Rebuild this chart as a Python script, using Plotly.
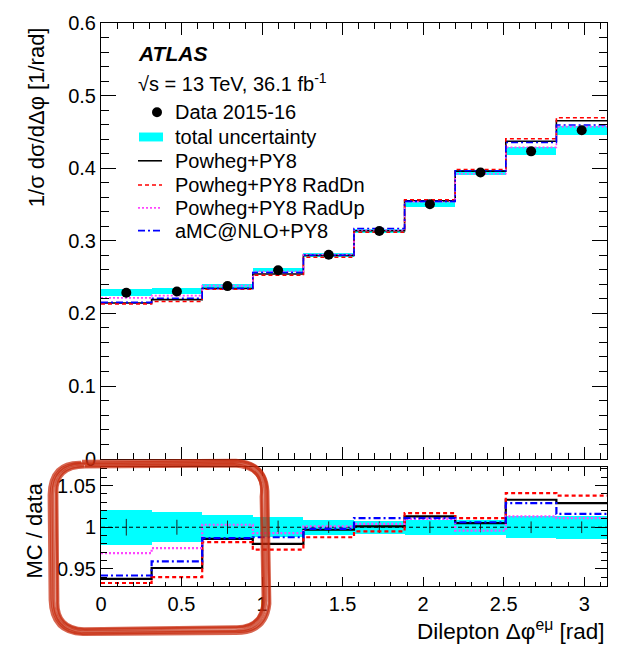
import plotly.graph_objects as go

# ---------------- data ----------------
bin_edges = [0.0, 0.3142, 0.6283, 0.9425, 1.2566, 1.5708, 1.8850, 2.1991, 2.5133, 2.8274, 3.1416]
data_xsec = [0.2285, 0.2303, 0.2376, 0.2595, 0.2808, 0.3135, 0.3504, 0.3940, 0.4232, 0.4523]
data_unc_abs = [0.0048, 0.0041, 0.0036, 0.0031, 0.0025, 0.0025, 0.0032, 0.0035, 0.0055, 0.0063]

powheg_xsec = [0.2143, 0.2190, 0.2343, 0.2543, 0.2800, 0.3138, 0.3550, 0.3960, 0.4372, 0.4654]
raddn_xsec  = [0.2132, 0.2165, 0.2333, 0.2525, 0.2774, 0.3119, 0.3564, 0.3983, 0.4406, 0.4695]
radup_xsec  = [0.2214, 0.2245, 0.2383, 0.2577, 0.2811, 0.3148, 0.3539, 0.3924, 0.4287, 0.4573]
amc_xsec    = [0.2152, 0.2209, 0.2345, 0.2564, 0.2802, 0.3169, 0.3543, 0.3964, 0.4355, 0.4595]

ratio_data      = [1.0] * 10
ratio_unc_total = [0.021, 0.018, 0.015, 0.012, 0.009, 0.008, 0.009, 0.009, 0.013, 0.014]
ratio_unc_stat  = [0.010, 0.009, 0.008, 0.008, 0.007, 0.007, 0.007, 0.006, 0.007, 0.007]
ratio_powheg = [0.938, 0.951, 0.986, 0.980, 0.997, 1.001, 1.013, 1.005, 1.033, 1.029]
ratio_raddn  = [0.933, 0.940, 0.982, 0.973, 0.988, 0.995, 1.017, 1.011, 1.041, 1.038]
ratio_radup  = [0.969, 0.975, 1.003, 0.993, 1.001, 1.004, 1.010, 0.996, 1.013, 1.011]
ratio_amc    = [0.942, 0.959, 0.987, 0.988, 0.998, 1.011, 1.011, 1.006, 1.029, 1.016]

x_ticks_major = [0, 0.5, 1, 1.5, 2, 2.5, 3]
x_tick_labels = ["0", "0.5", "1", "1.5", "2", "2.5", "3"]
y_ticks_top = [0, 0.1, 0.2, 0.3, 0.4, 0.5, 0.6]
y_tick_labels_top = ["0", "0.1", "0.2", "0.3", "0.4", "0.5", "0.6"]
y_ticks_ratio = [0.95, 1.0, 1.05]
y_tick_labels_ratio = ["0.95", "1", "1.05"]

legend_labels = ["Data 2015-16", "total uncertainty", "Powheg+PY8",
                 "Powheg+PY8 RadDn", "Powheg+PY8 RadUp", "aMC@NLO+PY8"]

# ---------------- helpers ----------------
centers = [(bin_edges[i] + bin_edges[i + 1]) / 2 for i in range(10)]
widths = [bin_edges[i + 1] - bin_edges[i] for i in range(10)]

W, H = 621, 645
L, R, T, B = 101, 14, 18, 59
PW, PH = W - L - R, H - T - B


def px(x):
    return (x - L) / PW


def py(y):
    return (H - B - y) / PH


FONT = "Liberation Sans, Arial, Helvetica, sans-serif"
BLACK = "#000000"
CYAN = "#00FFFF"
RED = "#FF0000"
MAG = "#FF44FF"
BLUE = "#0000FF"

styles = [
    (BLACK, "solid"),
    (RED, "4px,3px"),
    (MAG, "2px,2px"),
    (BLUE, "7px,3px,2px,3px"),
]

fig = go.Figure()

# ---------- top panel ----------
fig.add_trace(go.Bar(x=centers, y=[2 * u for u in data_unc_abs],
                     base=[d - u for d, u in zip(data_xsec, data_unc_abs)],
                     width=widths, marker=dict(color=CYAN, line=dict(width=0)),
                     xaxis="x", yaxis="y", showlegend=False, hoverinfo="skip"))
for vals, (col, dash) in zip([powheg_xsec, raddn_xsec, radup_xsec, amc_xsec], styles):
    fig.add_trace(go.Scatter(x=bin_edges, y=vals + [vals[-1]], mode="lines",
                             line=dict(color=col, dash=dash, width=1.6, shape="hv"),
                             xaxis="x", yaxis="y", showlegend=False))
fig.add_trace(go.Scatter(x=centers, y=data_xsec, mode="markers",
                         marker=dict(color=BLACK, size=10),
                         xaxis="x", yaxis="y", showlegend=False))

# ---------- ratio panel ----------
fig.add_trace(go.Bar(x=centers, y=[2 * u for u in ratio_unc_total],
                     base=[d - u for d, u in zip(ratio_data, ratio_unc_total)],
                     width=widths, marker=dict(color=CYAN, line=dict(width=0)),
                     xaxis="x2", yaxis="y2", showlegend=False, hoverinfo="skip"))
fig.add_trace(go.Scatter(x=[0, 3.1416], y=[1, 1], mode="lines",
                         line=dict(color=BLACK, dash="4px,3px", width=1),
                         xaxis="x2", yaxis="y2", showlegend=False))
fig.add_trace(go.Scatter(x=centers, y=ratio_data, mode="markers",
                         marker=dict(color=BLACK, size=1),
                         error_y=dict(type="data", array=ratio_unc_stat, color="#222222",
                                      thickness=1, width=0),
                         xaxis="x2", yaxis="y2", showlegend=False))
for vals, (col, dash) in zip([ratio_powheg, ratio_raddn, ratio_radup, ratio_amc], styles):
    fig.add_trace(go.Scatter(x=bin_edges, y=vals + [vals[-1]], mode="lines",
                             line=dict(color=col, dash=dash, width=2.2, shape="hv"),
                             xaxis="x2", yaxis="y2", showlegend=False))

top_dom = [py(457.5), 1.0]
rat_dom = [0.0, py(466)]

axis_common = dict(showline=True, linecolor="#000000", linewidth=1, mirror="allticks",
                   ticks="inside", tickcolor="#000000", showgrid=False, zeroline=False,
                   tickfont=dict(family=FONT, size=20, color="#000000"))

fig.update_layout(
    width=W, height=H,
    margin=dict(l=L, r=R, t=T, b=B),
    paper_bgcolor="white", plot_bgcolor="white",
    barmode="overlay", bargap=0,
    showlegend=False,
    xaxis=dict(domain=[0, 1], anchor="y", range=[0, 3.1416], tickvals=x_ticks_major,
               showticklabels=False, ticklen=12,
               minor=dict(dtick=0.1, tick0=0, ticklen=6, ticks="inside", tickcolor="#000000"),
               **axis_common),
    yaxis=dict(domain=top_dom, anchor="x", range=[0, 0.6], tickvals=y_ticks_top,
               ticktext=y_tick_labels_top, ticklen=15,
               minor=dict(dtick=0.02, tick0=0, ticklen=8, ticks="inside", tickcolor="#000000"),
               **axis_common),
    xaxis2=dict(domain=[0, 1], anchor="y2", range=[0, 3.1416], matches="x",
                tickvals=x_ticks_major, ticktext=x_tick_labels, ticklen=9,
                minor=dict(dtick=0.1, tick0=0, ticklen=4, ticks="inside", tickcolor="#000000"),
                **axis_common),
    yaxis2=dict(domain=rat_dom, anchor="x2", range=[0.9294, 1.0723], tickvals=y_ticks_ratio,
                ticktext=y_tick_labels_ratio, ticklen=12,
                minor=dict(dtick=0.01, tick0=0.9, ticklen=6, ticks="inside", tickcolor="#000000"),
                **axis_common),
)

annotations = []
shapes = []

# axis titles
annotations.append(dict(text="1/σ dσ/dΔφ [1/rad]", textangle=-90, x=px(36), y=py(113),
                        xref="paper", yref="paper", showarrow=False, xanchor="center",
                        yanchor="middle", font=dict(family=FONT, size=22, color="#000000")))
annotations.append(dict(text="MC / data", textangle=-90, x=px(34), y=py(530),
                        xref="paper", yref="paper", showarrow=False, xanchor="center",
                        yanchor="middle", font=dict(family=FONT, size=22, color="#000000")))
annotations.append(dict(text="Dilepton Δφ<sup>eμ</sup> [rad]", x=px(607), y=py(630),
                        xref="paper", yref="paper", showarrow=False, xanchor="right",
                        yanchor="middle", font=dict(family=FONT, size=22.5, color="#000000")))

# ATLAS label
annotations.append(dict(text="<b><i>ATLAS</i></b>", x=px(136), y=py(49), xref="paper", yref="paper",
                        showarrow=False, xanchor="left", yanchor="middle",
                        font=dict(family=FONT, size=21, color="#000000")))
annotations.append(dict(text="√s = 13 TeV, 36.1 fb<sup>-1</sup>", x=px(136), y=py(78),
                        xref="paper", yref="paper", showarrow=False, xanchor="left",
                        yanchor="middle", font=dict(family=FONT, size=20, color="#000000")))

# legend
leg_y = [108, 133, 157, 181.5, 204.5, 227.5]
for lab, yy in zip(legend_labels, leg_y):
    annotations.append(dict(text=lab, x=px(173), y=py(yy), xref="paper", yref="paper",
                            showarrow=False, xanchor="left", yanchor="middle",
                            font=dict(family=FONT, size=20, color="#000000")))
shapes.append(dict(type="circle", xref="paper", yref="paper", x0=px(152), x1=px(162),
                   y0=py(113), y1=py(103), fillcolor=BLACK, line=dict(width=0)))
shapes.append(dict(type="rect", xref="paper", yref="paper", x0=px(139), x1=px(163),
                   y0=py(137.5), y1=py(128.5), fillcolor=CYAN, line=dict(width=0)))
for (col, dash), yy in zip(styles, leg_y[2:]):
    shapes.append(dict(type="line", xref="paper", yref="paper", x0=px(138), x1=px(162),
                       y0=py(yy), y1=py(yy), line=dict(color=col, dash=dash, width=1.6)))


# hand-drawn red annotation (rounded rectangle), several rough strokes
def rr_path(x0, y0, x1, y1, r, j):
    return (f"M {px(x0 + r + j[0])},{py(y0 + j[1])} "
            f"L {px(x1 - r + j[2])},{py(y0 - 1 + j[3])} "
            f"Q {px(x1 + j[4])},{py(y0 + j[5])} {px(x1 + j[6])},{py(y0 + r + j[7])} "
            f"L {px(x1 + 1 + j[8])},{py(y1 - r + j[9])} "
            f"Q {px(x1 - 1 + j[10])},{py(y1 + j[11])} {px(x1 - r + j[12])},{py(y1 + j[13])} "
            f"L {px(x0 + r + j[14])},{py(y1 + 1 + j[15])} "
            f"Q {px(x0 + 1 + j[16])},{py(y1 + j[17])} {px(x0 + 1 + j[18])},{py(y1 - r + j[19])} "
            f"L {px(x0 + j[20])},{py(y0 + r + j[21])} "
            f"Q {px(x0 + j[22])},{py(y0 + j[23])} {px(x0 + r + j[24])},{py(y0 + j[25])}")


jits = [
    [0, 0, 0, 0, 0, 0, 0, 0, 0, 0, 0, 0, 0, 0, 0, 0, 0, 0, 0, 0, 0, 0, 0, 0, 0, 0],
    [2, 2, -2, 1, -2, 2, -3, 1, -2, -1, -2, -2, -1, -3, 2, -2, 2, -2, 3, 1, 3, -1, 2, 2, 1, 2],
    [-2, -1, 2, -2, 2, -1, 2, -2, 3, 2, 1, 2, 2, 1, -1, 2, -1, 1, -2, -2, -2, 2, -2, -1, -1, -1],
    [1, 3, -1, 3, 0, 3, -4, 3, -3, 1, -3, -3, 0, -4, 1, -3, 3, -3, 4, 0, 4, 0, 3, 3, 2, 3],
    [-1, -3, 1, -3, 1, -2, 3, -3, 4, 3, 3, 3, 1, 3, 0, 3, -3, 3, -4, -1, -4, 1, -3, -3, -2, -2],
]
for jv in jits:
    shapes.append(dict(type="path", xref="paper", yref="paper",
                       path=rr_path(53, 463, 265, 631, 30, jv),
                       line=dict(color="rgba(198,42,12,0.72)", width=2.8)))

fig.update_layout(annotations=annotations, shapes=shapes)

fig.write_html("out.html", config={"displayModeBar": False},
               post_script="document.body.style.margin='0px';document.body.style.overflow='hidden';")
